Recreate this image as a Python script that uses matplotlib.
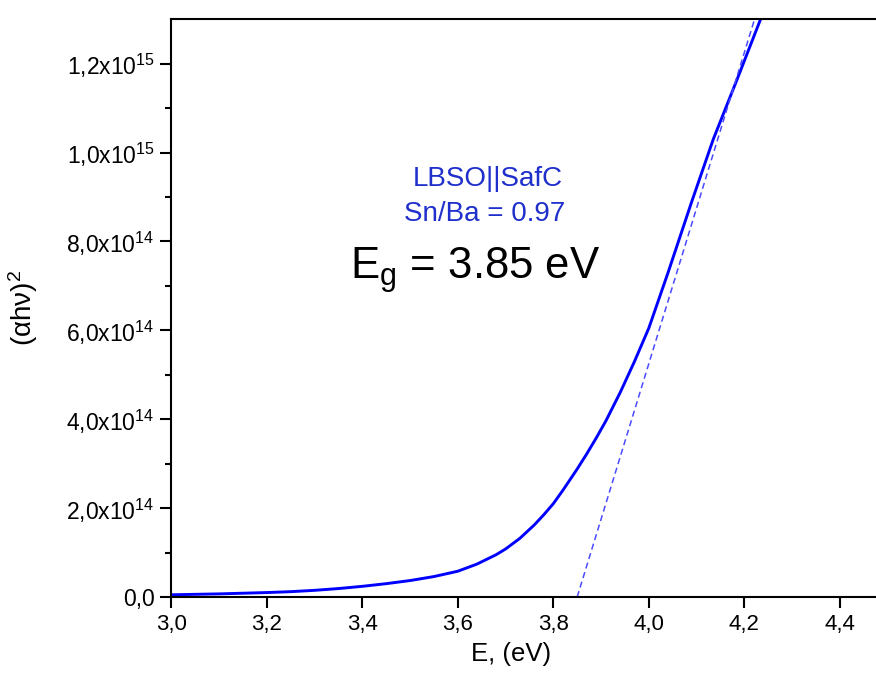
import matplotlib
matplotlib.use("Agg")
import matplotlib.pyplot as plt
import numpy as np

plt.rcParams['font.family'] = ['Liberation Sans', 'DejaVu Sans']
plt.rcParams['mathtext.fontset'] = 'custom'
plt.rcParams['mathtext.rm'] = 'Liberation Sans'
plt.rcParams['mathtext.it'] = 'Liberation Sans'
plt.rcParams['mathtext.default'] = 'regular'

# Tauc plot data: photon energy (eV) and (alpha*h*nu)^2
energy = [3.00, 3.10, 3.20, 3.25, 3.30, 3.35, 3.40, 3.45, 3.50, 3.55, 3.60,
          3.64, 3.68, 3.70, 3.73, 3.76, 3.78, 3.80, 3.82, 3.85, 3.87, 3.89,
          3.91, 3.94, 3.97, 4.00, 4.04, 4.09, 4.135, 4.185, 4.234, 4.26]
tauc = [0.05e14, 0.07e14, 0.10e14, 0.12e14, 0.15e14, 0.19e14, 0.24e14,
        0.30e14, 0.37e14, 0.46e14, 0.58e14, 0.74e14, 0.95e14, 1.08e14,
        1.32e14, 1.62e14, 1.85e14, 2.10e14, 2.40e14, 2.88e14, 3.22e14,
        3.58e14, 3.96e14, 4.6e14, 5.3e14, 6.05e14, 7.29e14, 8.9e14, 10.3e14,
        11.65e14, 13.0e14, 13.7e14]

# Linear fit of the absorption edge
band_gap = 3.85
fit_slope = 3.5e15
fit_end = 4.30

x_ticks = [3.0, 3.2, 3.4, 3.6, 3.8, 4.0, 4.2, 4.4]
x_tick_labels = ["3,0", "3,2", "3,4", "3,6", "3,8", "4,0", "4,2", "4,4"]
y_ticks = [0.0, 2e14, 4e14, 6e14, 8e14, 1.0e15, 1.2e15]
y_tick_labels = ["0,0", "2,0x10$^{14}$", "4,0x10$^{14}$", "6,0x10$^{14}$",
                 "8,0x10$^{14}$", "1,0x10$^{15}$", "1,2x10$^{15}$"]
y_minor = [1e14, 3e14, 5e14, 7e14, 9e14, 1.1e15]

fig = plt.figure(figsize=(8.76, 6.73), dpi=100)
ax = fig.add_axes([171.3 / 876, 76 / 673, 716.25 / 876, 577.7 / 673])

ax.plot(energy, tauc, color='#0000ff', lw=2.1, solid_joinstyle='round',
        solid_capstyle='round')

fit_x = np.array([band_gap, fit_end])
fit_y = fit_slope * (fit_x - band_gap)
ax.plot(fit_x, fit_y, color='#4a4aff', lw=1.1, ls=(0, (4, 2.5)))

ax.set_xlim(3.0, 4.5)
ax.set_ylim(0, 1.3e15)

ax.set_xticks(x_ticks)
ax.set_xticklabels(x_tick_labels, fontsize=16)
ax.set_yticks(y_ticks)
ax.set_yticklabels(y_tick_labels, fontsize=16.5)
ax.set_yticks(y_minor, minor=True)

ax.tick_params(axis='both', which='major', direction='out', length=8,
               width=1.5, pad=4, color='black')
ax.tick_params(axis='y', which='minor', direction='out', length=4.5,
               width=1.5)
ax.tick_params(axis='x', which='minor', bottom=False)

for side in ['left', 'bottom', 'top']:
    ax.spines[side].set_linewidth(1.5)
ax.spines['right'].set_visible(False)

ax.set_xlabel("E, (eV)", fontsize=18.5)
ax.xaxis.set_label_coords(0.474, -0.078)
ax.set_ylabel(r"($\alpha$h$\nu$)$^2$", fontsize=20)
ax.yaxis.set_label_coords(-0.183, 0.5)

text_blue = '#1f2fcc'
ax.text(3.663, 9.24e14, "LBSO||SafC", color=text_blue, fontsize=20,
        ha='center', va='baseline')
ax.text(3.657, 8.46e14, "Sn/Ba = 0.97", color=text_blue, fontsize=20,
        ha='center', va='baseline')
ax.text(3.636, 7.15e14, "E$_g$ = 3.85 eV", color='black', fontsize=31.5,
        ha='center', va='baseline')

fig.savefig("out.png", dpi=100)
